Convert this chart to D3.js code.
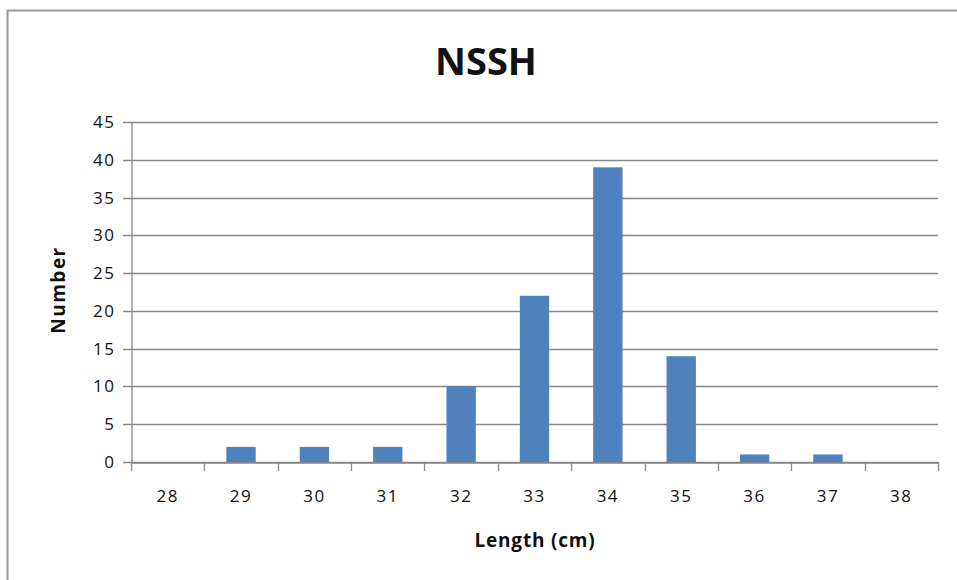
<!DOCTYPE html>
<html>
<head>
<meta charset="utf-8">
<script src="https://cdn.jsdelivr.net/npm/d3@7"></script>
<style>
  body { margin: 0; background: #fff; }
  svg text { font-family: "Open Sans", "DejaVu Sans", sans-serif; fill: #111; }
</style>
</head>
<body>
<div class="mainContent"></div>
<script>
const w = 957;
const h = 580;

// chart data
const lengths = ['28', '29', '30', '31', '32', '33', '34', '35', '36', '37', '38'];
const counts = [0, 2, 2, 2, 10, 22, 39, 14, 1, 1, 0];
const yTicks = [0, 5, 10, 15, 20, 25, 30, 35, 40, 45];

const plotLeft = 131, plotRight = 938, plotTop = 122, plotBottom = 462;

const svg = d3.select('.mainContent')
    .append('svg')
    .attr('width', w)
    .attr('height', h);

// chart area border
svg.append('rect')
    .attr('x', 7.5).attr('y', 10.5)
    .attr('width', 980).attr('height', 600)
    .attr('fill', 'none')
    .attr('stroke', '#9a9a9a')
    .attr('stroke-width', 2);

const xScale = d3.scaleBand()
    .domain(lengths)
    .range([plotLeft, plotRight])
    .paddingInner(0.6)
    .paddingOuter(0.3);

const xTickScale = d3.scaleBand().domain(lengths).range([plotLeft, plotRight]);

const yScale = d3.scaleLinear()
    .domain([0, 45])
    .range([plotBottom, plotTop]);

// gridlines
svg.append('g')
    .selectAll('line')
    .data(yTicks)
    .enter()
    .append('line')
    .attr('x1', plotLeft - 8)
    .attr('x2', plotRight)
    .attr('y1', d => Math.round(yScale(d)) + 0.5)
    .attr('y2', d => Math.round(yScale(d)) + 0.5)
    .attr('stroke', '#888')
    .attr('stroke-width', 1.3);

// y axis
const yAxis = d3.axisLeft(yScale).tickValues(yTicks).tickSize(0).tickPadding(16);
svg.append('g')
    .attr('transform', `translate(${plotLeft + 0.5},0)`)
    .call(yAxis)
    .call(g => g.select('.domain').attr('stroke', '#888').attr('stroke-width', 1.3))
    .call(g => g.selectAll('text').attr('font-size', 17).attr('letter-spacing', 1.5).attr('fill', '#111'));

// bars
svg.selectAll('rect.bar')
    .data(counts)
    .enter()
    .append('rect')
    .attr('class', 'bar')
    .attr('x', (d, i) => xScale(lengths[i]))
    .attr('width', xScale.bandwidth())
    .attr('y', d => yScale(d))
    .attr('height', d => plotBottom - yScale(d))
    .attr('fill', '#4f81bd');

// x axis
const xAxis = d3.axisBottom(xTickScale).tickSize(0).tickPadding(27);
svg.append('g')
    .attr('transform', `translate(0,${plotBottom + 0.5})`)
    .call(xAxis)
    .call(g => g.select('.domain').attr('stroke', '#888').attr('stroke-width', 1.3))
    .call(g => g.selectAll('text').attr('font-size', 17).attr('letter-spacing', 1.5).attr('fill', '#111'));

// x tick marks between categories
svg.append('g')
    .selectAll('line')
    .data(lengths.concat(['end']))
    .enter()
    .append('line')
    .attr('x1', (d, i) => Math.round(i < lengths.length ? xTickScale(d) : plotRight) + 0.5)
    .attr('x2', (d, i) => Math.round(i < lengths.length ? xTickScale(d) : plotRight) + 0.5)
    .attr('y1', plotBottom)
    .attr('y2', plotBottom + 9)
    .attr('stroke', '#888')
    .attr('stroke-width', 1.3);

// titles
svg.append('text')
    .attr('x', 486).attr('y', 75)
    .attr('text-anchor', 'middle')
    .attr('font-size', 38)
    .attr('font-weight', 'bold')
    .text('NSSH');

svg.append('text')
    .attr('x', 535).attr('y', 547)
    .attr('text-anchor', 'middle')
    .attr('font-size', 19)
    .attr('font-weight', 'bold')
    .attr('letter-spacing', 0.8)
    .text('Length (cm)');

svg.append('text')
    .attr('transform', 'translate(65,290) rotate(-90)')
    .attr('text-anchor', 'middle')
    .attr('font-size', 19)
    .attr('font-weight', 'bold')
    .attr('letter-spacing', 1.5)
    .text('Number');
</script>
</body>
</html>
